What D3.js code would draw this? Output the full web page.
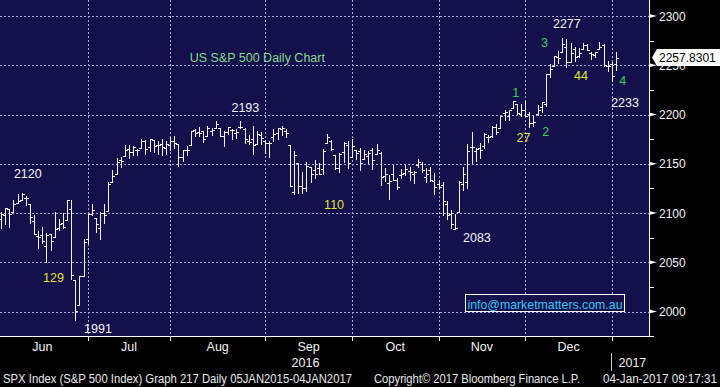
<!DOCTYPE html>
<html><head><meta charset="utf-8">
<script src="https://cdn.jsdelivr.net/npm/d3@7/dist/d3.min.js"></script>
<style>html,body{margin:0;padding:0;background:#000;overflow:hidden}</style>
</head><body>
<svg id="chart" width="720" height="387"></svg>
<script>
// ---- Data: SPX daily OHLC, 1 Jun 2016 – 3 Jan 2017 ----
const dates = [
"2016-06-01","2016-06-02","2016-06-03","2016-06-06","2016-06-07","2016-06-08","2016-06-09","2016-06-10","2016-06-13","2016-06-14","2016-06-15","2016-06-16","2016-06-17","2016-06-20","2016-06-21","2016-06-22","2016-06-23","2016-06-24","2016-06-27","2016-06-28","2016-06-29","2016-06-30",
"2016-07-01","2016-07-05","2016-07-06","2016-07-07","2016-07-08","2016-07-11","2016-07-12","2016-07-13","2016-07-14","2016-07-15","2016-07-18","2016-07-19","2016-07-20","2016-07-21","2016-07-22","2016-07-25","2016-07-26","2016-07-27","2016-07-28","2016-07-29",
"2016-08-01","2016-08-02","2016-08-03","2016-08-04","2016-08-05","2016-08-08","2016-08-09","2016-08-10","2016-08-11","2016-08-12","2016-08-15","2016-08-16","2016-08-17","2016-08-18","2016-08-19","2016-08-22","2016-08-23","2016-08-24","2016-08-25","2016-08-26","2016-08-29","2016-08-30","2016-08-31",
"2016-09-01","2016-09-02","2016-09-06","2016-09-07","2016-09-08","2016-09-09","2016-09-12","2016-09-13","2016-09-14","2016-09-15","2016-09-16","2016-09-19","2016-09-20","2016-09-21","2016-09-22","2016-09-23","2016-09-26","2016-09-27","2016-09-28","2016-09-29","2016-09-30",
"2016-10-03","2016-10-04","2016-10-05","2016-10-06","2016-10-07","2016-10-10","2016-10-11","2016-10-12","2016-10-13","2016-10-14","2016-10-17","2016-10-18","2016-10-19","2016-10-20","2016-10-21","2016-10-24","2016-10-25","2016-10-26","2016-10-27","2016-10-28","2016-10-31",
"2016-11-01","2016-11-02","2016-11-03","2016-11-04","2016-11-07","2016-11-08","2016-11-09","2016-11-10","2016-11-11","2016-11-14","2016-11-15","2016-11-16","2016-11-17","2016-11-18","2016-11-21","2016-11-22","2016-11-23","2016-11-25","2016-11-28","2016-11-29","2016-11-30",
"2016-12-01","2016-12-02","2016-12-05","2016-12-06","2016-12-07","2016-12-08","2016-12-09","2016-12-12","2016-12-13","2016-12-14","2016-12-15","2016-12-16","2016-12-19","2016-12-20","2016-12-21","2016-12-22","2016-12-23","2016-12-27","2016-12-28","2016-12-29","2016-12-30",
"2017-01-03"];

const opens = [
2093.9,2097.7,2104.1,2100.8,2110.2,2112.7,2115.7,2109.6,2091.8,2076.7,2077.6,2066.4,2078.2,2075.6,2085.2,2089.8,2092.8,2103.8,2031.5,2006.7,2036.1,2073.2,
2099.3,2095.1,2084.4,2100.4,2101.7,2131.7,2139.5,2153.8,2157.9,2165.1,2162.0,2163.8,2166.1,2172.9,2166.5,2173.7,2169.0,2169.8,2166.1,2168.8,
2173.2,2169.9,2156.8,2163.5,2168.8,2183.8,2182.2,2182.8,2178.0,2183.7,2186.1,2186.2,2177.8,2181.9,2184.2,2181.6,2187.8,2185.1,2173.3,2175.1,2170.2,2179.5,2173.6,
2171.3,2177.5,2181.6,2185.2,2182.8,2169.1,2120.9,2150.5,2127.9,2125.4,2146.5,2144.0,2145.9,2144.6,2170.9,2173.3,2158.5,2146.0,2161.9,2168.9,2156.5,
2164.3,2163.4,2155.2,2158.2,2164.2,2160.4,2161.4,2137.7,2130.3,2139.7,2133.0,2138.3,2140.8,2142.5,2139.4,2148.5,2149.7,2137.0,2144.1,2132.2,2129.8,
2128.7,2109.4,2098.8,2083.8,2100.6,2129.9,2131.6,2167.5,2162.7,2165.6,2168.3,2177.5,2178.6,2186.9,2186.4,2201.6,2198.6,2206.3,2210.2,2200.8,2205.0,
2200.2,2191.1,2200.7,2207.3,2210.7,2241.1,2249.7,2258.8,2263.3,2268.4,2253.8,2266.8,2259.2,2266.5,2270.5,2262.9,2260.3,2266.2,2270.2,2249.5,2251.6,
2251.6];

const highs = [
2101.0,2105.3,2104.1,2113.4,2119.2,2120.6,2117.6,2109.6,2098.1,2081.3,2085.7,2079.6,2078.2,2100.7,2093.7,2099.7,2113.3,2113.3,2031.5,2036.1,2073.1,2098.9,
2108.7,2095.1,2100.7,2109.1,2131.7,2143.2,2155.4,2156.5,2169.0,2169.1,2168.4,2164.6,2175.6,2174.6,2175.1,2173.7,2173.5,2175.0,2172.9,2177.1,
2178.3,2170.2,2163.8,2168.2,2182.9,2185.4,2187.7,2183.4,2188.5,2186.3,2193.8,2186.2,2183.1,2187.0,2185.0,2184.9,2193.4,2186.7,2179.0,2187.9,2183.5,2182.3,2173.8,
2173.6,2184.9,2186.6,2187.9,2184.9,2169.1,2163.3,2150.5,2141.3,2151.3,2146.5,2153.6,2150.8,2165.1,2180.0,2173.8,2158.5,2161.1,2172.4,2172.7,2175.3,
2164.3,2165.5,2164.0,2162.9,2165.9,2169.6,2161.6,2145.4,2138.2,2149.2,2135.6,2144.4,2148.4,2147.2,2142.6,2154.8,2151.4,2145.7,2147.1,2140.7,2133.3,
2131.5,2111.8,2102.6,2099.1,2132.0,2146.9,2170.1,2182.3,2165.9,2171.4,2180.8,2179.2,2188.1,2189.9,2198.7,2204.8,2204.7,2213.4,2211.1,2210.5,2214.1,
2202.6,2198.0,2209.4,2212.8,2241.6,2251.7,2259.8,2264.0,2277.5,2276.2,2272.1,2268.1,2267.5,2272.6,2271.2,2263.2,2263.8,2273.8,2271.3,2254.5,2253.6,
2263.9];

const lows = [
2085.1,2088.6,2085.4,2100.8,2110.2,2112.7,2107.7,2090.0,2078.5,2064.1,2069.8,2050.4,2062.8,2075.6,2083.0,2084.4,2092.8,2032.6,1991.7,2006.7,2036.1,2070.0,
2097.9,2080.9,2074.0,2089.4,2101.7,2131.7,2139.5,2146.2,2157.9,2155.8,2159.1,2159.0,2166.1,2159.8,2163.2,2162.0,2160.2,2159.1,2159.7,2163.5,
2166.2,2147.6,2153.0,2159.1,2168.8,2177.9,2178.6,2172.0,2178.0,2179.4,2186.1,2178.1,2168.5,2180.5,2175.1,2176.0,2186.8,2171.3,2169.7,2160.4,2170.2,2170.4,2161.4,
2157.1,2173.6,2175.1,2179.1,2177.5,2127.8,2119.1,2120.3,2119.9,2122.4,2131.2,2135.9,2139.2,2139.6,2170.9,2164.0,2145.0,2141.6,2151.8,2145.2,2156.5,
2154.8,2144.0,2155.2,2150.3,2144.9,2160.4,2128.8,2132.8,2114.7,2133.0,2124.4,2135.5,2138.2,2133.4,2130.1,2146.9,2141.9,2131.6,2132.5,2119.4,2125.5,
2097.9,2094.0,2085.2,2083.8,2100.6,2123.6,2125.4,2151.2,2152.5,2156.1,2166.4,2172.2,2176.7,2180.4,2186.4,2194.5,2194.5,2206.3,2200.4,2198.2,2198.8,
2187.4,2188.4,2200.0,2202.2,2208.9,2237.6,2249.2,2252.4,2263.3,2248.4,2253.8,2254.2,2258.2,2266.1,2265.2,2256.1,2258.8,2266.2,2249.1,2244.6,2233.6,
2245.1];

const closes = [
2099.3,2105.3,2099.1,2109.4,2112.1,2119.1,2115.5,2096.1,2079.1,2075.3,2071.5,2078.0,2071.2,2083.3,2088.9,2085.5,2113.3,2037.4,2000.5,2036.1,2070.8,2098.9,
2103.0,2088.6,2099.7,2097.9,2129.9,2137.2,2152.1,2152.4,2163.8,2161.7,2166.9,2163.8,2173.0,2165.2,2175.0,2168.5,2169.2,2166.6,2170.1,2173.6,
2170.8,2157.0,2163.8,2164.3,2182.9,2180.9,2181.7,2175.5,2185.8,2184.1,2190.2,2178.2,2182.2,2187.0,2183.9,2182.6,2186.9,2175.4,2172.5,2169.0,2180.4,2176.1,2171.0,
2170.9,2180.0,2186.5,2186.2,2181.3,2127.8,2159.0,2127.0,2125.8,2147.3,2139.2,2139.1,2139.8,2163.1,2177.2,2164.7,2146.1,2159.9,2171.4,2151.1,2168.3,
2161.2,2150.5,2159.7,2160.8,2153.7,2163.7,2136.7,2139.2,2132.6,2133.0,2126.5,2139.6,2144.3,2141.3,2141.2,2151.3,2143.2,2139.4,2133.0,2126.4,2126.2,
2111.7,2097.9,2088.7,2085.2,2131.5,2139.6,2163.3,2167.5,2164.5,2164.2,2180.4,2176.9,2187.1,2181.9,2198.2,2202.9,2204.7,2213.4,2201.7,2204.7,2198.8,
2191.1,2192.0,2204.7,2212.2,2241.4,2246.2,2259.5,2257.0,2271.7,2253.3,2262.0,2258.1,2262.5,2270.8,2265.2,2261.0,2263.8,2268.9,2249.9,2249.3,2238.8,
2257.8];

const lastPrice = "2257.8301";
const monthLabels = ["Jun","Jul","Aug","Sep","Oct","Nov","Dec"];
const monthEnds = ["2016-06-30","2016-07-29","2016-08-31","2016-09-30","2016-10-31","2016-11-30","2016-12-30"];
const yTicks = [2000,2050,2100,2150,2200,2250,2300];
const yMinor = [1975,2025,2075,2125,2175,2225,2275];
const yearLabels = ["2016","2017"];
// annotations: x as trading-day index, y as price level of the text baseline
const annotations = [
  {text:"US S&P 500 Daily Chart", at:62.1, price:2253.3, kind:"title"},
  {text:"2193", at:59.2, price:2202.5, kind:"white"},
  {text:"2120", at:6.5,  price:2135.4, kind:"white"},
  {text:"129",  at:12.7, price:2029.8, kind:"yellow"},
  {text:"1991", at:23.5, price:1977.9, kind:"white"},
  {text:"110",  at:80.7, price:2103.9, kind:"yellow"},
  {text:"2083", at:115.3,price:2070.4, kind:"white"},
  {text:"1",    at:124.7,price:2217.7, kind:"green"},
  {text:"27",   at:126.6,price:2172.0, kind:"yellow"},
  {text:"2",    at:132.0,price:2178.1, kind:"green"},
  {text:"3",    at:131.7,price:2268.5, kind:"green"},
  {text:"2277", at:137.1,price:2287.8, kind:"white"},
  {text:"44",   at:140.5,price:2235.0, kind:"yellow"},
  {text:"4",    at:150.6,price:2229.9, kind:"green"},
  {text:"2233", at:151.2,price:2207.5, kind:"white"}
];

// ---- Layout ----
const W = 720, H = 387;
const plotR = 649, plotB = 336;
const FONT = "'Liberation Sans', Arial, sans-serif";
const colors = {bg:"#13104b", grid:"#a9a6d6", white:"#f2f2f2", yellow:"#e6e23c", green:"#38cf58", title:"#86d98e", email:"#36c6f2"};

const svg = d3.select("#chart");
svg.append("rect").attr("width",W).attr("height",H).attr("fill","#000");
svg.append("rect").attr("x",0).attr("y",0).attr("width",plotR).attr("height",plotB).attr("fill",colors.bg);

const n = dates.length;
const x = d3.scaleLinear().domain([0, n-1]).range([1, 616]);
const idx = new Map(dates.map((d,i)=>[d,i]));
const y = d3.scaleLinear().domain([2000,2300]).range([311.5,16]);
const px = v => Math.round(v)+0.5;

// grid
const grid = svg.append("g").attr("stroke",colors.grid).attr("stroke-width",1).attr("stroke-dasharray","2,2").attr("shape-rendering","crispEdges");
yTicks.forEach(t=>grid.append("line").attr("x1",0).attr("x2",plotR).attr("y1",px(y(t))).attr("y2",px(y(t))));
monthEnds.forEach(d=>grid.append("line").attr("x1",px(x(idx.get(d)))).attr("x2",px(x(idx.get(d)))).attr("y1",0).attr("y2",plotB));

// OHLC bars
const bars = svg.append("g").attr("stroke",colors.white).attr("stroke-width",1).attr("shape-rendering","crispEdges");
dates.forEach((d,i)=>{
  const cx = px(x(i));
  const yh = Math.round(y(highs[i])), yl = Math.round(y(lows[i]));
  bars.append("line").attr("x1",cx).attr("x2",cx).attr("y1",yh).attr("y2",Math.max(yl,yh+1)+0.5);
  const yo = px(y(opens[i])), yc = px(y(closes[i]));
  bars.append("line").attr("x1",cx-2.5).attr("x2",cx).attr("y1",yo).attr("y2",yo);
  bars.append("line").attr("x1",cx).attr("x2",cx+2.5).attr("y1",yc).attr("y2",yc);
});

// annotations
const annColor = {title:colors.title, white:colors.white, yellow:colors.yellow, green:colors.green};
svg.append("g").selectAll("text").data(annotations).join("text")
  .attr("x",a=>x(a.at)).attr("y",a=>y(a.price))
  .attr("text-anchor","middle").attr("font-family",FONT)
  .attr("font-size",a=>a.kind==="title"?12.5:12.5)
  .attr("fill",a=>annColor[a.kind]).text(a=>a.text);

// email box
const eg = svg.append("g");
const et = eg.append("text").attr("x",545).attr("y",308.5).attr("text-anchor","middle")
  .attr("font-family",FONT).attr("font-size",13).attr("fill",colors.email)
  .attr("textLength",155).attr("lengthAdjust","spacingAndGlyphs").text("info@marketmatters.com.au");
eg.insert("rect","text").attr("x",465.5).attr("y",294.5).attr("width",159).attr("height",17)
  .attr("fill",colors.bg).attr("stroke","#ffffff").attr("stroke-width",1);

// axes lines
svg.append("line").attr("x1",0).attr("x2",plotR+0.5).attr("y1",plotB+0.5).attr("y2",plotB+0.5).attr("stroke","#fff").attr("shape-rendering","crispEdges");
svg.append("line").attr("x1",plotR+0.5).attr("x2",plotR+0.5).attr("y1",0).attr("y2",plotB+1).attr("stroke","#fff").attr("shape-rendering","crispEdges");

// right axis ticks and labels
const ya = svg.append("g");
yTicks.forEach(t=>{
  const yy = y(t);
  ya.append("path").attr("d",`M${plotR},${yy-2}L${plotR+8},${yy}L${plotR},${yy+2}Z`).attr("fill","#fff");
  ya.append("text").attr("x",659).attr("y",yy+4.5).attr("font-family",FONT).attr("font-size",12).attr("fill",colors.white).text(t);
});
yMinor.forEach(t=>{
  const yy = px(y(t));
  ya.append("line").attr("x1",plotR).attr("x2",plotR+5).attr("y1",yy).attr("y2",yy).attr("stroke","#fff").attr("shape-rendering","crispEdges");
});

// last price box
const ly = y(2257.83);
svg.append("path").attr("d",`M${plotR+3},${ly}L${plotR+8},${ly-8.5}L${W},${ly-8.5}L${W},${ly+8.5}L${plotR+8},${ly+8.5}Z`).attr("fill","#fff");
svg.append("text").attr("x",659).attr("y",ly+4.5).attr("font-family",FONT).attr("font-size",12).attr("fill","#000").text(lastPrice);

// bottom axis ticks + month labels
const xa = svg.append("g");
monthEnds.forEach(d=>{
  const xx = px(x(idx.get(d)));
  xa.append("line").attr("x1",xx).attr("x2",xx).attr("y1",plotB).attr("y2",plotB+5).attr("stroke","#fff").attr("shape-rendering","crispEdges");
});
const step = x(1)-x(0);
monthLabels.forEach((m,k)=>{
  const right = x(idx.get(monthEnds[k]));
  const left = k===0 ? x(0)-step : x(idx.get(monthEnds[k-1]));
  xa.append("text").attr("x",(left+right)/2).attr("y",351).attr("text-anchor","middle")
    .attr("font-family",FONT).attr("font-size",12.5).attr("fill",colors.white).text(m);
});
// year labels
const sepMid = (x(idx.get(monthEnds[2]))+x(idx.get(monthEnds[3])))/2;
xa.append("text").attr("x",sepMid-3).attr("y",367).attr("text-anchor","middle")
  .attr("font-family",FONT).attr("font-size",12.5).attr("fill",colors.white).text(yearLabels[0]);
const yrX = px(x(idx.get(monthEnds[6])));
xa.append("line").attr("x1",yrX-1).attr("x2",yrX-1).attr("y1",353).attr("y2",371).attr("stroke","#ccc").attr("shape-rendering","crispEdges");
xa.append("text").attr("x",yrX+6).attr("y",367)
  .attr("font-family",FONT).attr("font-size",12.5).attr("fill",colors.white).text(yearLabels[1]);

// footer
const ft = svg.append("g").attr("font-family",FONT).attr("font-size",12).attr("fill","#e8e8e8");
ft.append("text").attr("x",3).attr("y",383).attr("textLength",349).attr("lengthAdjust","spacingAndGlyphs")
  .text("SPX Index (S&P 500 Index) Graph 217  Daily 05JAN2015-04JAN2017");
ft.append("text").attr("x",374).attr("y",383).attr("textLength",206).attr("lengthAdjust","spacingAndGlyphs")
  .text("Copyright\u00A9 2017 Bloomberg Finance L.P.");
ft.append("text").attr("x",603).attr("y",383).attr("textLength",114).attr("lengthAdjust","spacingAndGlyphs")
  .text("04-Jan-2017 09:17:31");
</script>
</body></html>
